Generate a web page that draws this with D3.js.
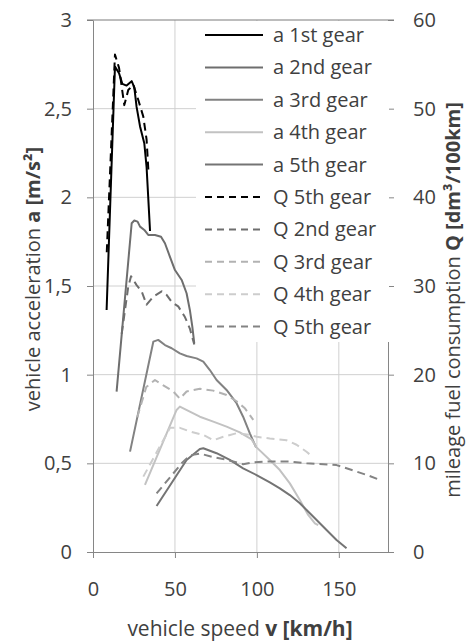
<!DOCTYPE html>
<html>
<head>
<meta charset="utf-8">
<script src="https://cdn.jsdelivr.net/npm/d3@7"></script>
<style>
  body { margin: 0; background: #fff; }
  svg text { font-family: "Open Sans", sans-serif; fill: #404040; }
</style>
</head>
<body>
<div class="canvas"></div>
<script>

// speeds [km/h] and values
const a1V = [8.3, 13.4, 15.9, 17.9, 20.5, 23.6, 25.2, 26.6, 28.7, 31.3, 32.7, 33.7, 34.8];
const a1  = [1.365, 2.737, 2.70, 2.64, 2.63, 2.655, 2.62, 2.51, 2.40, 2.305, 2.17, 2.00, 1.81];

const a2V = [14.4, 23.6, 25.2, 27.2, 28.7, 31.3, 33.7, 37.8, 41.5, 43.9, 46.9, 50, 54.1, 57.1, 59.1, 60.6, 61.8];
const a2  = [0.904, 1.854, 1.869, 1.863, 1.835, 1.816, 1.788, 1.788, 1.778, 1.741, 1.666, 1.59, 1.534, 1.459, 1.365, 1.271, 1.177];

const a3V = [22.6, 36.8, 39.8, 43.9, 48, 53, 57.1, 63.2, 67.3, 71.3, 75.4, 81.5, 87.6, 91.6, 95.7, 99.5];
const a3  = [0.566, 1.186, 1.196, 1.167, 1.149, 1.12, 1.105, 1.092, 1.073, 1.026, 0.97, 0.914, 0.839, 0.763, 0.669, 0.59];

const a4V = [31.7, 51, 53, 59.1, 65.2, 73.4, 81.5, 89.6, 96.8, 99.8, 107.9, 114, 120.1, 126.2, 131.3, 135.4, 137.4];
const a4  = [0.378, 0.801, 0.82, 0.791, 0.763, 0.735, 0.707, 0.675, 0.635, 0.59, 0.519, 0.462, 0.387, 0.293, 0.209, 0.162, 0.152];

const a5V = [38.8, 57.1, 65.2, 67.3, 75.4, 83.5, 91.6, 99.8, 107.9, 114, 120.1, 126.2, 134.3, 142.5, 148.6, 154.7];
const a5  = [0.259, 0.519, 0.581, 0.585, 0.557, 0.519, 0.472, 0.434, 0.392, 0.359, 0.321, 0.275, 0.2, 0.124, 0.068, 0.021];

// fuel consumption Q [dm3/100km]
const q1V = [8.4, 13.4, 15.9, 19.1, 21.5, 24.6, 27.6, 30.7, 32.7, 33.9];
const q1  = [33.8, 56.1, 54.6, 50.4, 52.1, 52.7, 51.0, 49.1, 46.5, 42.7];

const q2V = [17.5, 21.5, 23.2, 26.6, 29.7, 32.7, 36.8, 41.9, 44.9, 48, 52, 56.1, 59.1, 61.8];
const q2  = [24.6, 29.9, 31.1, 30.1, 29.4, 27.9, 28.8, 29.4, 29.0, 28.2, 27.7, 26.5, 25.2, 23.4];

const q3V = [27, 32.5, 37.8, 42.9, 49, 53, 57.1, 65.2, 73.4, 81.5, 87.6, 92.7, 97.8];
const q3  = [15.2, 18.6, 19.4, 18.8, 18.1, 17.3, 18.1, 18.4, 18.2, 17.7, 17.0, 16.2, 14.9];

const q4V = [30.7, 47, 53, 59.1, 67.3, 73.4, 79.5, 87.6, 95.7, 99.8, 107.9, 118.1, 124.2, 130.3, 134.3];
const q4  = [8.5, 14, 14, 13.6, 13.2, 12.6, 13.0, 13.4, 13.2, 13.0, 12.8, 12.6, 12.1, 11.3, 10.7];

const q5V = [38.8, 54.1, 59.1, 65.2, 73.4, 81.5, 91.6, 97.7, 105.9, 120.1, 130.3, 148.6, 158.7, 166.9, 174];
const q5  = [6.6, 10, 10.9, 11.1, 10.7, 10.4, 9.9, 10.1, 10.2, 10.2, 10.0, 9.8, 9.2, 8.7, 8.2];

const xTicks = [0, 50, 100, 150];
const aTicks = [0, 0.5, 1, 1.5, 2, 2.5, 3];
const qTicks = [0, 10, 20, 30, 40, 50, 60];

const labels = ['a 1st gear', 'a 2nd gear', 'a 3rd gear', 'a 4th gear', 'a 5th gear',
                'Q 5th gear', 'Q 2nd gear', 'Q 3rd gear', 'Q 4th gear', 'Q 5th gear'];

const series = [
  {v: a1V, y: a1, axis: 'a', color: '#000000', dash: null},
  {v: a2V, y: a2, axis: 'a', color: '#6e6e6e', dash: null},
  {v: a3V, y: a3, axis: 'a', color: '#828282', dash: null},
  {v: a4V, y: a4, axis: 'a', color: '#c2c2c2', dash: null},
  {v: a5V, y: a5, axis: 'a', color: '#747474', dash: null},
  {v: q1V, y: q1, axis: 'q', color: '#000000', dash: '8,5'},
  {v: q2V, y: q2, axis: 'q', color: '#6e6e6e', dash: '8,5'},
  {v: q3V, y: q3, axis: 'q', color: '#b2b2b2', dash: '8,5'},
  {v: q4V, y: q4, axis: 'q', color: '#cdcdcd', dash: '8,5'},
  {v: q5V, y: q5, axis: 'q', color: '#838383', dash: '8,5'}
].map((s, i) => ({...s, name: labels[i], pts: s.v.map((v, j) => [v, s.y[j]])}));

const W = 467, H = 641;

const svg = d3.select('.canvas')
  .append('svg')
    .attr('width', W)
    .attr('height', H);

const x = d3.scaleLinear().domain([0, 180]).range([93, 388]);
const yA = d3.scaleLinear().domain([0, 3]).range([552, 20]);
const yQ = d3.scaleLinear().domain([0, 60]).range([552, 20]);

const comma = d => String(d).replace('.', ',');

// gridlines
svg.append('g')
  .selectAll('line.h')
  .data(aTicks.filter(d => d > 0 && d < 3))
  .enter().append('line')
    .attr('x1', x(0)).attr('x2', x(180))
    .attr('y1', d => yA(d)).attr('y2', d => yA(d))
    .attr('stroke', '#d0d0d0');

svg.append('g')
  .selectAll('line.v')
  .data(xTicks.filter(d => d > 0))
  .enter().append('line')
    .attr('x1', d => x(d)).attr('x2', d => x(d))
    .attr('y1', yA(3)).attr('y2', yA(0))
    .attr('stroke', '#d0d0d0');

// axes
const styleAxis = g => {
  g.select('.domain').attr('stroke', '#868686');
  g.selectAll('.tick line').attr('stroke', '#868686');
  g.selectAll('.tick text').attr('font-size', 20).attr('fill', '#404040')
    .attr('font-family', '"Open Sans", sans-serif');
};

svg.append('g')
  .attr('transform', `translate(0,${yA(0)})`)
  .call(d3.axisBottom(x).tickValues(xTicks).tickSize(6).tickSizeOuter(0).tickPadding(24))
  .call(styleAxis);

svg.append('g')
  .attr('transform', `translate(${x(0)},0)`)
  .call(d3.axisLeft(yA).tickValues(aTicks).tickFormat(comma).tickSize(6).tickSizeOuter(0).tickPadding(15))
  .call(styleAxis);

svg.append('g')
  .attr('transform', `translate(${x(180)},0)`)
  .call(d3.axisRight(yQ).tickValues(qTicks).tickSize(6).tickSizeOuter(0).tickPadding(19))
  .call(styleAxis);

// data lines
const line = (ys) => d3.line().x(d => x(d[0])).y(d => ys(d[1]));

svg.append('g')
  .selectAll('path')
  .data(series)
  .enter().append('path')
    .attr('d', d => line(d.axis === 'a' ? yA : yQ)(d.pts))
    .attr('fill', 'none')
    .attr('stroke', d => d.color)
    .attr('stroke-width', 2)
    .attr('stroke-dasharray', d => d.dash)
    .attr('stroke-linejoin', 'round');

// legend (opaque box over the plot)
const legend = svg.append('g');
legend.append('rect')
  .attr('x', 196).attr('y', 21)
  .attr('width', 193).attr('height', 321)
  .attr('fill', '#fff');

const items = legend.selectAll('g.item')
  .data(series)
  .enter().append('g')
    .attr('transform', (d, i) => `translate(0,${35 + i * 32.4})`);

items.append('line')
  .attr('x1', 205).attr('x2', 263)
  .attr('stroke', d => d.color)
  .attr('stroke-width', 2)
  .attr('stroke-dasharray', d => d.dash ? '7,5' : null);

items.append('text')
  .attr('x', 273)
  .attr('dy', '0.35em')
  .attr('font-size', 20)
  .text(d => d.name);

// top border
svg.append('line')
  .attr('x1', x(0) - 6).attr('x2', x(180) + 6)
  .attr('y1', yA(3)).attr('y2', yA(3))
  .attr('stroke', '#7a7a7a');

// titles
const xt = svg.append('text')
  .attr('x', 240).attr('y', 636)
  .attr('text-anchor', 'middle')
  .attr('font-size', 21);
xt.append('tspan').text('vehicle speed ');
xt.append('tspan').attr('font-weight', 'bold').text('v [km/h]');

const yt = svg.append('text')
  .attr('transform', 'translate(40,279) rotate(-90)')
  .attr('text-anchor', 'middle')
  .attr('font-size', 20);
yt.append('tspan').text('vehicle acceleration ');
yt.append('tspan').attr('font-weight', 'bold').text('a [m/s²]');

const qt = svg.append('text')
  .attr('transform', 'translate(460,300) rotate(-90)')
  .attr('text-anchor', 'middle')
  .attr('font-size', 20);
qt.append('tspan').text('mileage fuel consumption ');
qt.append('tspan').attr('font-weight', 'bold').text('Q [dm³/100km]');

</script>
</body>
</html>
